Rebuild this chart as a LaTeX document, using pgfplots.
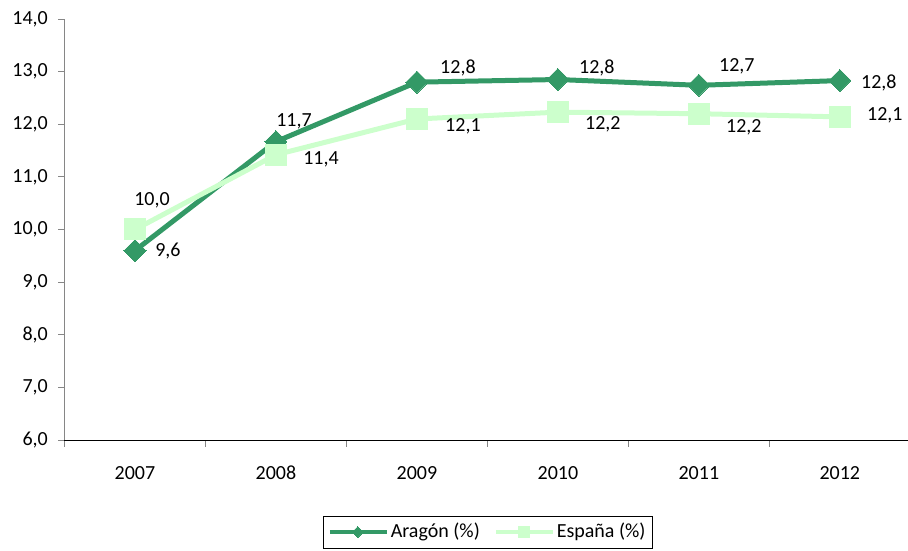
\documentclass[border=0pt]{standalone}
\usepackage{pgfplots}
\pgfplotsset{compat=1.18}
\usepackage{pgfplotstable}
\usepackage{fontspec}
\setmainfont{Carlito}
\definecolor{arag}{HTML}{339966}
\definecolor{esp}{HTML}{CCFFCC}
\definecolor{axgray}{HTML}{868686}

\pgfplotstableread{
x y label dx dy
0 9.6 9,6 33 0
1 11.67 11,7 18 20
2 12.80 12,8 41 14
3 12.85 12,8 39 12
4 12.74 12,7 38 19
5 12.83 12,8 39 -2
}\aragon

\pgfplotstableread{
x y label dx dy
0 10.0 10,0 17 29
1 11.42 11,4 45 -5
2 12.10 12,1 46 -7
3 12.23 12,2 45 -12
4 12.20 12,2 45 -14
5 12.14 12,1 45 2
}\espana

\begin{document}
\fontsize{20}{24}\selectfont
\begin{tikzpicture}
\begin{axis}[
  scale only axis,
  width=843pt, height=421pt,
  xmin=-0.5, xmax=5.48,
  ymin=6, ymax=14,
  ytick={6,7,...,14},
  xtick={0,1,2,3,4,5},
  xticklabels={2007,2008,2009,2010,2011,2012},
  minor xtick={-0.5,0.5,1.5,2.5,3.5,4.5},
  major x tick style={draw=none},
  minor tick length=7pt,
  major tick length=6pt,
  tick align=outside,
  axis x line*=bottom,
  axis y line*=left,
  x axis line style={black, line width=0.9pt},
  y axis line style={axgray, line width=0.9pt},
  y tick style={axgray, line width=0.9pt},
  minor x tick style={axgray, line width=0.9pt},
  /pgf/number format/use comma,
  /pgf/number format/fixed,
  /pgf/number format/fixed zerofill,
  /pgf/number format/precision=1,
  /pgf/number format/assume math mode=true,
  yticklabel style={inner sep=0pt, xshift=-10.5pt},
  xticklabel style={inner sep=0pt, yshift=-20pt},
  clip=false,
  legend columns=2,
  legend style={at={(0.502,-0.1805)}, anchor=north, draw=black, line width=0.6pt,
    font=\fontsize{20}{24}\selectfont, inner xsep=5pt, inner ysep=5pt,
    /tikz/every even column/.append style={column sep=12pt}},
  legend image code/.code={
    \draw[mark repeat=2, mark phase=2, #1, line width=4pt, every mark/.append style={scale=0.5}] plot coordinates {(0pt,0pt) (28pt,0pt) (57pt,0pt)};
  },
  nodes near coords,
  point meta=explicit symbolic,
  visualization depends on={\thisrow{dx} \as \dx},
  visualization depends on={\thisrow{dy} \as \dy},
  nodes near coords style={anchor=center, black, inner sep=0pt, xshift=\dx pt, yshift=\dy pt},
]
\addplot[color=arag, line width=5pt, mark=square*, mark size=7.8pt,
  mark options={solid, rotate=45, fill=arag, draw=arag, line width=0pt}]
  table[x=x, y=y, meta=label] {\aragon};
\addplot[color=esp, line width=5pt, mark=square*, mark size=10.5pt,
  mark options={solid, fill=esp, draw=esp, line width=0pt}]
  table[x=x, y=y, meta=label] {\espana};
\legend{Aragón (\%), España (\%)\hspace{6pt}}
\end{axis}
\pgfresetboundingbox
\path[use as bounding box] (-64.5pt,-111pt) rectangle (843.5pt,440pt);
\end{tikzpicture}
\end{document}
